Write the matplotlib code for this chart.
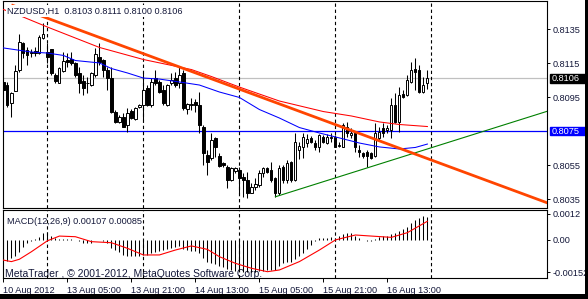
import matplotlib
matplotlib.use('Agg')
import matplotlib.pyplot as plt
import matplotlib.transforms as mtransforms
from matplotlib.patches import Rectangle
import numpy as np

# ---------------- data ----------------
opens = [0.81041, 0.81021, 0.80917, 0.80986, 0.81109, 0.81266, 0.81227, 0.81208, 0.81223, 0.81208,
         0.81296, 0.81217, 0.81231, 0.81080, 0.81035, 0.81105, 0.81168, 0.81172, 0.81149, 0.81090,
         0.81046, 0.81035, 0.81021, 0.81080, 0.81188, 0.81168, 0.81109, 0.81062, 0.80864, 0.80805,
         0.80835, 0.80786, 0.80868, 0.80820, 0.80890, 0.80904, 0.81002, 0.80904, 0.81061, 0.81041,
         0.80992, 0.80904, 0.81031, 0.81061, 0.81031, 0.81090, 0.80878, 0.80904, 0.80923, 0.80904,
         0.80776, 0.80610, 0.80590, 0.80708, 0.80604, 0.80564, 0.80541, 0.80463, 0.80517, 0.80521,
         0.80482, 0.80463, 0.80388, 0.80423, 0.80433, 0.80502, 0.80531, 0.80521, 0.80473, 0.80384,
         0.80541, 0.80463, 0.80570, 0.80463, 0.80639, 0.80658, 0.80678, 0.80708, 0.80682, 0.80658,
         0.80714, 0.80678, 0.80708, 0.80717, 0.80664, 0.80658, 0.80776, 0.80727, 0.80737, 0.80639,
         0.80623, 0.80629, 0.80620, 0.80604, 0.80708, 0.80767, 0.80757, 0.80757, 0.80904, 0.80805,
         0.80968, 0.80962, 0.81041, 0.81113, 0.81109, 0.80982, 0.81030]
highs = [0.81051, 0.81041, 0.80982, 0.81139, 0.81321, 0.81276, 0.81246, 0.81233, 0.81245, 0.81315,
         0.81388, 0.81266, 0.81233, 0.81094, 0.81129, 0.81217, 0.81208, 0.81217, 0.81158, 0.81129,
         0.81080, 0.81070, 0.81099, 0.81237, 0.81266, 0.81172, 0.81129, 0.81129, 0.80874, 0.80845,
         0.80855, 0.80884, 0.80880, 0.80894, 0.80910, 0.81099, 0.81021, 0.81061, 0.81109, 0.81051,
         0.81021, 0.81027, 0.81090, 0.81099, 0.81129, 0.81109, 0.80914, 0.80943, 0.80937, 0.80982,
         0.80786, 0.80639, 0.80737, 0.80717, 0.80620, 0.80570, 0.80551, 0.80537, 0.80537, 0.80541,
         0.80502, 0.80511, 0.80443, 0.80473, 0.80521, 0.80541, 0.80541, 0.80570, 0.80482, 0.80551,
         0.80551, 0.80580, 0.80576, 0.80737, 0.80688, 0.80737, 0.80733, 0.80721, 0.80698, 0.80733,
         0.80727, 0.80733, 0.80737, 0.80727, 0.80688, 0.80800, 0.80805, 0.80767, 0.80747, 0.80668,
         0.80629, 0.80639, 0.80629, 0.80796, 0.80776, 0.80796, 0.80786, 0.80943, 0.80972, 0.81011,
         0.80992, 0.81080, 0.81158, 0.81178, 0.81139, 0.81070, 0.81110]
lows = [0.80982, 0.80894, 0.80835, 0.80983, 0.81099, 0.81180, 0.81139, 0.81188, 0.81192, 0.81203,
        0.81290, 0.81149, 0.81080, 0.81031, 0.81031, 0.81099, 0.81129, 0.81139, 0.81070, 0.80972,
        0.80962, 0.80972, 0.81015, 0.81070, 0.81139, 0.81070, 0.80992, 0.80855, 0.80800, 0.80796,
        0.80772, 0.80747, 0.80820, 0.80815, 0.80884, 0.80815, 0.80898, 0.80894, 0.81021, 0.80972,
        0.80904, 0.80898, 0.81021, 0.81008, 0.81002, 0.80874, 0.80851, 0.80874, 0.80864, 0.80737,
        0.80551, 0.80492, 0.80580, 0.80600, 0.80541, 0.80541, 0.80414, 0.80459, 0.80506, 0.80384,
        0.80364, 0.80355, 0.80384, 0.80404, 0.80423, 0.80482, 0.80506, 0.80453, 0.80364, 0.80374,
        0.80443, 0.80443, 0.80453, 0.80459, 0.80584, 0.80590, 0.80658, 0.80678, 0.80639, 0.80629,
        0.80678, 0.80674, 0.80688, 0.80655, 0.80658, 0.80655, 0.80714, 0.80708, 0.80629, 0.80600,
        0.80590, 0.80541, 0.80584, 0.80600, 0.80698, 0.80717, 0.80737, 0.80708, 0.80796, 0.80747,
        0.80943, 0.80957, 0.81035, 0.80992, 0.80976, 0.80976, 0.81000]
closes = [0.80992, 0.80904, 0.80976, 0.81104, 0.81276, 0.81208, 0.81198, 0.81217, 0.81208, 0.81305,
          0.81321, 0.81188, 0.81090, 0.81046, 0.81119, 0.81164, 0.81158, 0.81149, 0.81080, 0.81035,
          0.81002, 0.81031, 0.81090, 0.81203, 0.81158, 0.81109, 0.81062, 0.80864, 0.80805, 0.80835,
          0.80776, 0.80858, 0.80827, 0.80884, 0.80904, 0.80992, 0.80904, 0.81041, 0.81031, 0.80982,
          0.80914, 0.81021, 0.81051, 0.81021, 0.81080, 0.80884, 0.80908, 0.80910, 0.80904, 0.80786,
          0.80620, 0.80570, 0.80698, 0.80658, 0.80545, 0.80551, 0.80463, 0.80531, 0.80531, 0.80473,
          0.80463, 0.80384, 0.80423, 0.80439, 0.80506, 0.80531, 0.80511, 0.80463, 0.80384, 0.80531,
          0.80463, 0.80561, 0.80463, 0.80688, 0.80663, 0.80717, 0.80702, 0.80688, 0.80655, 0.80727,
          0.80688, 0.80714, 0.80717, 0.80658, 0.80668, 0.80786, 0.80737, 0.80737, 0.80658, 0.80629,
          0.80604, 0.80604, 0.80590, 0.80737, 0.80747, 0.80737, 0.80767, 0.80904, 0.80805, 0.80962,
          0.80949, 0.81051, 0.81109, 0.81099, 0.80982, 0.81021, 0.81060]

# moving averages read at sample bars
red_ma_bars = [0, 4, 11, 24, 35, 47, 52, 59, 69, 80, 87, 94, 99, 106]
red_ma_vals = [0.81465, 0.81430, 0.81362, 0.81242, 0.81171, 0.81112, 0.81071, 0.81009,
               0.80927, 0.80865, 0.80839, 0.80804, 0.80789, 0.80777]
blue_ma_bars = [0, 7, 11, 15, 18, 24, 27, 31, 35, 39, 44, 49, 54, 59, 64, 69, 74, 79, 84,
                89, 94, 99, 103, 106]
blue_ma_vals = [0.81239, 0.81215, 0.81209, 0.81195, 0.81165, 0.81151, 0.81118, 0.81092,
                0.81062, 0.81056, 0.81039, 0.81021, 0.80980, 0.80948, 0.80877, 0.80827,
                0.80771, 0.80739, 0.80710, 0.80680, 0.80657, 0.80645, 0.80654, 0.80674]

# trend lines (bar, price) anchor pairs
orange_trend_bars = [2, 136]
orange_trend_vals = [0.81492, 0.80328]
green_trend_bars = [68, 136]
green_trend_vals = [0.80364, 0.80867]
bid_price = 0.8106
hline_price = 0.8075

# MACD(12,26,9) main values per bar
macd_main = [-9.6, -9.9, -8.8, -7.7, -5.7, -3.4, -1.8, -0.7, 0.2, 1.3,
             2.9, 3.4, 1.6, 0.5, 0.3, 0.4, 0.4, 0.2, -0.2, -0.8,
             -1.5, -1.8, -1.5, -0.4, -0.3, -0.9, -1.8, -3.8, -5.0, -6.0,
             -7.0, -7.5, -7.8, -7.8, -7.7, -7.2, -7.0, -6.3, -5.6, -5.2,
             -5.0, -4.5, -3.8, -3.4, -2.9, -4.2, -4.9, -5.2, -5.3, -6.4,
             -8.8, -10.3, -10.8, -11.3, -12.2, -12.9, -13.8, -14.2, -14.5, -14.8,
             -15.0, -15.2, -15.2, -15.0, -14.7, -14.5, -14.3, -14.2, -14.0, -12.5,
             -10.8, -10.5, -10.3, -9.3, -7.8, -6.5, -4.5, -2.5, -0.8, 0.5,
             0.8, 0.8, 1.0, 0.8, 1.5, 2.5, 3.0, 3.0, 1.5, 0.5,
             -0.3, -0.5, -0.5, 0.3, 1.2, 1.5, 1.8, 2.5, 3.0, 4.0,
             5.0, 6.0, 7.5, 9.0, 10.0, 10.8, 10.7]  # x 1e-4
signal_bars = [0, 2, 4, 7, 11, 14, 18, 22, 27, 31, 35, 39, 43, 47, 51, 54, 58, 62, 66,
               69, 74, 79, 83, 88, 92, 97, 101, 106]
signal_vals = [-9.6, -10.3, -9.2, -5.7, -0.6, 1.6, 1.3, -1.0, -1.5, -4.1, -7.2, -7.2, -4.9,
               -3.0, -4.6, -8.0, -11.1, -13.4, -15.0, -14.2, -10.3, -4.9, -0.2, 2.1, 1.6,
               1.0, 3.2, 8.5]  # x 1e-4

price_ticks = [0.8135, 0.8115, 0.8095, 0.8055, 0.8035]
macd_ticks = [0.0012, 0.0, -0.00152]
macd_tick_labels = ['0.0012', '0.00', '-0.00152']
time_tick_bars = [0, 16, 32, 48, 64, 80, 96]
time_tick_labels = ['10 Aug 2012', '13 Aug 05:00', '13 Aug 21:00', '14 Aug 13:00',
                    '15 Aug 05:00', '15 Aug 21:00', '16 Aug 13:00']
day_sep_bars = [11, 35, 59, 83, 107]

# ---------------- figure ----------------
W, H = 588, 299
FONT = 'Liberation Sans'
TXT = '#14183a'
plt.rcParams['font.family'] = [FONT, 'DejaVu Sans']

fig = plt.figure(figsize=(W / 100, H / 100), dpi=100)
fig.patch.set_facecolor('white')


def px_rect(x0, y0, x1, y1):
    return [x0 / W, 1 - y1 / H, (x1 - x0) / W, (y1 - y0) / H]


ax = fig.add_axes(px_rect(3, 1, 547, 208))
ax2 = fig.add_axes(px_rect(3, 210, 547, 278))

bars = np.arange(len(opens))
o = np.array(opens); c = np.array(closes); hi = np.array(highs); lo = np.array(lows)
up = c >= o

# candles
ax.vlines(bars, lo, hi, color='black', lw=0.75, zorder=2)
bb = np.minimum(o, c)
bh = np.maximum(np.abs(c - o), 0.000012)
ax.bar(bars[up], bh[up], bottom=bb[up], width=0.55, color='white', edgecolor='black',
       lw=0.7, zorder=2.5)
ax.bar(bars[~up], bh[~up], bottom=bb[~up], width=0.55, color='black', edgecolor='black',
       lw=0.7, zorder=2.5)

# horizontal lines
ax.axhline(bid_price, color='#c0c0c0', lw=0.9, zorder=1)
ax.axhline(hline_price, color='#0000ff', lw=0.9, zorder=1.2)

# moving averages
ax.plot(red_ma_bars, red_ma_vals, color='#ff0000', lw=0.75, zorder=3)
ax.plot(blue_ma_bars, blue_ma_vals, color='#0000ff', lw=0.75, zorder=3)

# trend lines
ax.plot(orange_trend_bars, orange_trend_vals, color='#ff4500', lw=2.0, zorder=3.5,
        solid_capstyle='butt')
ax.plot(green_trend_bars, green_trend_vals, color='#008000', lw=0.8, zorder=3.4)

# day separators
for a in (ax, ax2):
    for b in day_sep_bars:
        a.axvline(b, color='black', lw=0.8, ls=(0, (3, 2.5)), zorder=1.5)

ax.set_xlim(-0.1, 135.9)
ax.set_ylim(0.80298, 0.81515)
ax2.set_xlim(-0.1, 135.9)
ax2.set_ylim(-0.001794, 0.001375)

# MACD
ax2.vlines(bars, 0, np.array(macd_main) * 1e-4, color='black', lw=0.75, zorder=2)
ax2.plot(signal_bars, np.array(signal_vals) * 1e-4, color='#ff0000', lw=0.8, zorder=3)

# axes styling
for a in (ax, ax2):
    for s in a.spines.values():
        s.set_color('black')
        s.set_linewidth(0.8)
    a.yaxis.tick_right()
    a.tick_params(axis='y', direction='out', length=2.5, width=0.7, pad=1.5,
                  labelsize=6.6, labelcolor=TXT, color='black')

ax.set_xticks([])
ax.set_yticks(price_ticks)
ax.set_yticklabels(['%.4f' % v for v in price_ticks])
ax2.set_yticks(macd_ticks)
ax2.set_yticklabels(macd_tick_labels)
ax2.set_xticks(time_tick_bars)
ax2.set_xticklabels(time_tick_labels)
ax2.tick_params(axis='x', direction='out', length=3, width=0.7, pad=3,
                labelsize=6.6, labelcolor=TXT, color='black')
for t in ax2.get_xticklabels():
    t.set_ha('left')

# price boxes on the right axis
blend = mtransforms.blended_transform_factory(fig.transFigure, ax.transData)
box_h = 8.5 * (0.0001 / 1.7)
for price, face, label in [(bid_price, 'black', '0.8106'), (hline_price, '#0000ff', '0.8075')]:
    ax.add_patch(Rectangle((550 / W, price - box_h / 2), 35 / W, box_h, transform=blend,
                           facecolor=face, edgecolor=face, clip_on=False, zorder=5))
    ax.text(552 / W, price, label, transform=blend, color='white', fontsize=6.6,
            va='center', ha='left', clip_on=False, zorder=6)

# texts
fig.text(7 / W, 1 - 11 / H, 'NZDUSD,H1  0.8103 0.8111 0.8100 0.8106', fontsize=6.6,
         color=TXT, va='center', ha='left',
         bbox=dict(boxstyle='square,pad=0.12', facecolor='white', edgecolor='none'))
fig.text(7 / W, 1 - 221 / H, 'MACD(12,26,9) 0.00107 0.00085', fontsize=6.6,
         color=TXT, va='center', ha='left')
ax2.text(5 / W, 1 - 274 / H, 'MetaTrader , \u00a9 2001-2012, MetaQuotes Software Corp.',
         transform=fig.transFigure, fontsize=7.5, color=TXT, va='center', ha='left',
         zorder=1.2, clip_on=False)

# window border strips
fig.patches.append(Rectangle((585 / W, 0), 3 / W, 1, transform=fig.transFigure,
                             facecolor='black', edgecolor='none'))
fig.patches.append(Rectangle((0, 0), 1, 5 / H, transform=fig.transFigure,
                             facecolor='black', edgecolor='none'))

fig.savefig('out.png', dpi=100, facecolor='white')
